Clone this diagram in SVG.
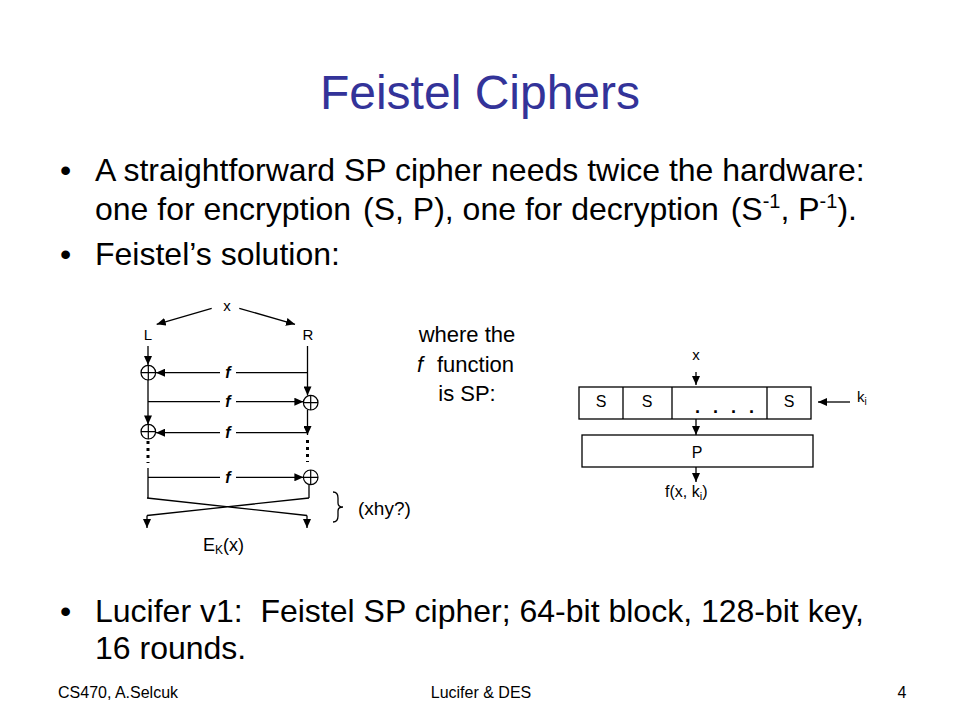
<svg xmlns="http://www.w3.org/2000/svg" width="960" height="720" viewBox="0 0 960 720">
<style>
text{font-family:"Liberation Sans",Arial,sans-serif;fill:#000}
.title{font-size:48px;fill:#333399;text-anchor:middle}
.body{font-size:32px}
.foot{font-size:16px}
.lbl{font-size:15px}
.fl{font-size:16px;font-weight:bold;font-style:italic;text-anchor:middle}
.mid{text-anchor:middle}
.ln{stroke:#000;stroke-width:1.3;fill:none}
.arr{stroke:#000;stroke-width:1.3;fill:none;marker-end:url(#ah)}
.dots{stroke:#000;stroke-width:3;stroke-dasharray:3 4;fill:none}
.box{fill:#fff;stroke:#000;stroke-width:1.3}
</style>
<defs>
<marker id="ah" markerWidth="10" markerHeight="8" refX="9" refY="4" orient="auto" markerUnits="userSpaceOnUse"><path d="M0,0 L9,4 L0,8 z" fill="#000"/></marker>
<g id="xor"><circle cx="0" cy="0" r="7.3" fill="#fff" stroke="#000" stroke-width="1.2"/><path d="M-7.3,0 H7.3 M0,-7.3 V7.3" stroke="#000" stroke-width="1.2"/></g>
</defs>
<rect width="960" height="720" fill="#fff"/>

<g id="title"><text class="title" x="480" y="109">Feistel Ciphers</text></g>

<g id="bullets">
<text class="body" x="60" y="181">•</text>
<text class="body" x="95" y="181">A straightforward SP cipher needs twice the hardware:</text>
<text class="body" x="95" y="220" xml:space="preserve">one for encryption <tspan dx="3">(S, P), one for decryption </tspan><tspan dx="3">(S</tspan><tspan font-size="20" dy="-12">-1</tspan><tspan dy="12">, P</tspan><tspan font-size="20" dy="-12">-1</tspan><tspan dy="12">).</tspan></text>
<text class="body" x="60" y="265">•</text>
<text class="body" x="95" y="265">Feistel’s solution:</text>
<text class="body" x="60" y="622">•</text>
<text class="body" x="95" y="622" xml:space="preserve">Lucifer v1:  Feistel SP cipher; 64-bit block, 128-bit key,</text>
<text class="body" x="95" y="659">16 rounds.</text>
</g>

<g id="feistel-labels">
<text class="lbl mid" x="227" y="311">x</text>
<text class="lbl mid" x="148" y="340">L</text>
<text class="lbl mid" x="308" y="340">R</text>
<text class="fl" x="228" y="378">f</text>
<text class="fl" x="228" y="407">f</text>
<text class="fl" x="228" y="438">f</text>
<text class="fl" x="228" y="483">f</text>
<text x="203" y="551" font-size="18">E<tspan font-size="12" dy="3">K</tspan><tspan dy="-3">(x)</tspan></text>
<text x="358" y="515" font-size="19">(xhy?)</text>
</g>

<g id="xor1"><use href="#xor" x="148.3" y="372.7"/></g>
<g id="xor2"><use href="#xor" x="310.7" y="402.7"/></g>
<g id="xor3"><use href="#xor" x="148.3" y="431.7"/></g>
<g id="xor4"><use href="#xor" x="310.7" y="477.3"/></g>

<g id="where">
<text x="467" y="342" font-size="22" class="mid">where the</text>
<text x="417" y="372" font-size="22" font-style="italic">f</text>
<text x="437" y="372" font-size="22">function</text>
<text x="467" y="401" font-size="22" class="mid">is SP:</text>
</g>

<g id="sbox">
<rect class="box" x="579" y="387" width="232" height="32"/>
<path class="ln" d="M623,387 V419 M672,387 V419 M767,387 V419"/>
<text class="mid" x="601" y="407" font-size="16">S</text>
<text class="mid" x="647" y="407" font-size="16">S</text>
<text class="mid" x="789" y="407" font-size="16">S</text>
<text x="695 713 731 749" y="413" font-size="18" font-weight="bold">....</text>
</g>
<g id="pbox">
<rect class="box" x="582" y="435" width="231" height="32"/>
<text class="mid" x="697" y="458" font-size="16">P</text>
</g>
<g id="f-labels">
<text class="lbl mid" x="696" y="360">x</text>
<text class="lbl" x="857" y="402">k<tspan font-size="10" dy="3">i</tspan></text>
<text x="665" y="497" font-size="16">f(x, k<tspan font-size="11" dy="3">i</tspan><tspan dy="-3">)</tspan></text>
</g>

<g id="connectors">
<path class="arr" d="M211.7,308.3 L156.7,324.3"/>
<path class="arr" d="M239.3,308.3 L295,324.3"/>
<path class="arr" d="M148,346 V365"/>
<path class="arr" d="M148,380 V424.4"/>
<path class="dots" d="M148,441 V463"/>
<path class="ln" d="M148,468 V498"/>
<path class="arr" d="M307.5,346 V395.4"/>
<path class="arr" d="M307.5,410 V435"/>
<path class="dots" d="M307.5,440 V462"/>
<path class="ln" d="M309,484.6 V498"/>
<path class="ln" d="M307.5,372.7 H236"/>
<path class="arr" d="M220,372.7 H156"/>
<path class="ln" d="M148,401.7 H220"/>
<path class="arr" d="M236,401.7 H303.4"/>
<path class="ln" d="M307.5,432.7 H236"/>
<path class="arr" d="M220,432.7 H156"/>
<path class="ln" d="M148,477.3 H220"/>
<path class="arr" d="M236,477.3 H303.4"/>
<path class="ln" d="M147,498 L307,515.5 M309,498 L147,515.5"/>
<path class="arr" d="M147,515.5 V528"/>
<path class="arr" d="M307,515.5 V528"/>
<path class="ln" d="M333,492 Q338,492 338,498 L338,503 Q338,507 343,507 Q338,507 338,511 L338,516 Q338,522 333,522"/>
<path class="arr" d="M696,372 V385"/>
<path class="arr" d="M696,419 V435"/>
<path class="arr" d="M696,467 V482"/>
<path class="arr" d="M850,402 H818"/>
</g>

<g id="footer">
<text class="foot" x="58" y="698">CS470, A.Selcuk</text>
<text class="foot mid" x="481" y="698">Lucifer &amp; DES</text>
<text class="foot mid" x="902" y="698">4</text>
</g>
</svg>
